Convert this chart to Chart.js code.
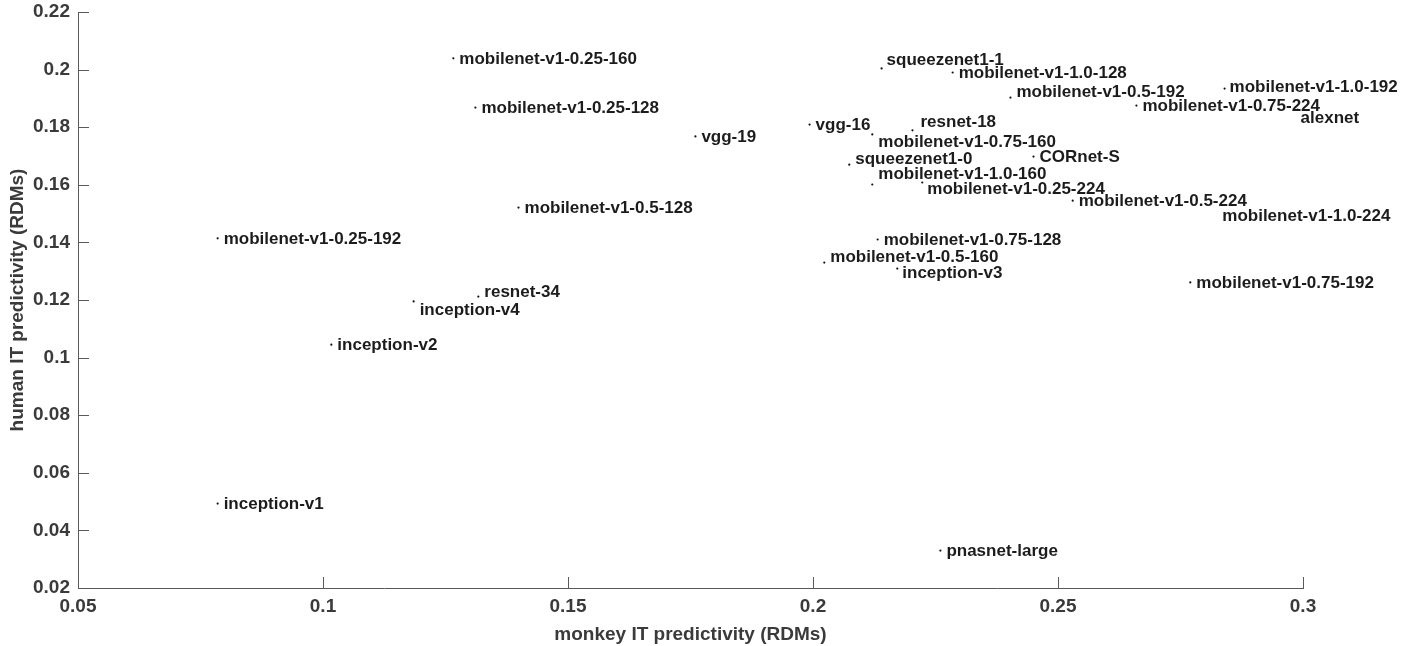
<!DOCTYPE html>
<html>
<head>
<meta charset="utf-8">
<script src="https://cdn.jsdelivr.net/npm/chart.js@4"></script>
<style>
  html, body { margin: 0; padding: 0; background: #ffffff; }
  #wrap { width: 1412px; height: 646px; position: relative; }
</style>
</head>
<body>
<div id="wrap"><canvas id="c" width="1412" height="646"></canvas></div>
<script>
// ---- data ----
const modelNames = [
  "mobilenet-v1-0.25-160", "mobilenet-v1-0.25-128", "vgg-19", "mobilenet-v1-0.5-128",
  "mobilenet-v1-0.25-192", "resnet-34", "inception-v4", "inception-v2", "inception-v1",
  "pnasnet-large", "squeezenet1-1", "mobilenet-v1-1.0-128", "mobilenet-v1-0.5-192",
  "mobilenet-v1-1.0-192", "mobilenet-v1-0.75-224", "alexnet", "vgg-16", "resnet-18",
  "mobilenet-v1-0.75-160", "squeezenet1-0", "CORnet-S", "mobilenet-v1-1.0-160",
  "mobilenet-v1-0.25-224", "mobilenet-v1-0.5-224", "mobilenet-v1-1.0-224",
  "mobilenet-v1-0.75-128", "mobilenet-v1-0.5-160", "inception-v3", "mobilenet-v1-0.75-192"
];
const monkeyIT = [
  0.1266, 0.1311, 0.1760, 0.1399,
  0.0785, 0.1317, 0.1185, 0.1017, 0.0785,
  0.2260, 0.2140, 0.2285, 0.2403,
  0.2840, 0.2660, 0.2989, 0.1993, 0.2203,
  0.2121, 0.2074, 0.2450, 0.2121,
  0.2223, 0.2530, 0.2872,
  0.2132, 0.2023, 0.2172, 0.2770
];
const humanIT = [
  0.2039, 0.1868, 0.1768, 0.1521,
  0.1414, 0.1212, 0.1195, 0.1045, 0.0493,
  0.0330, 0.2004, 0.1990, 0.1903,
  0.1934, 0.1875, 0.1861, 0.1809, 0.1789,
  0.1775, 0.1670, 0.1698, 0.1601,
  0.1608, 0.1545, 0.1500,
  0.1410, 0.1330, 0.1309, 0.1261
];
const xTickValues = [0.05, 0.1, 0.15, 0.2, 0.25, 0.3];
const xTickLabels = ["0.05", "0.1", "0.15", "0.2", "0.25", "0.3"];
const yTickValues = [0.02, 0.04, 0.06, 0.08, 0.1, 0.12, 0.14, 0.16, 0.18, 0.2, 0.22];
const yTickLabels = ["0.02", "0.04", "0.06", "0.08", "0.1", "0.12", "0.14", "0.16", "0.18", "0.2", "0.22"];
const xTitle = "monkey IT predictivity (RDMs)";
const yTitle = "human IT predictivity (RDMs)";

// ---- label placement (pixel offsets from point to label's left/middle), styling only ----
const labelOffsets = {
  "resnet-34": [6, -5],
  "inception-v4": [6, 8],
  "squeezenet1-1": [5, -9],
  "mobilenet-v1-0.5-192": [6, -6],
  "mobilenet-v1-1.0-192": [5, -2],
  "alexnet": [3, 8],
  "resnet-18": [8, -9],
  "mobilenet-v1-0.75-160": [6, 7],
  "squeezenet1-0": [6, -6],
  "mobilenet-v1-1.0-160": [6, -11],
  "mobilenet-v1-0.25-224": [5, 6],
  "mobilenet-v1-1.0-224": [-18, 2],
  "mobilenet-v1-0.5-160": [6, -6],
  "inception-v3": [5, 4]
};
const FONT = "'Liberation Sans', Arial, Helvetica, sans-serif";
const AXIS_COLOR = "#5a5a5a";
const TEXT_COLOR = "#3a3a3a";

const points = modelNames.map((n, i) => ({ x: monkeyIT[i], y: humanIT[i], name: n }));

const inwardTicks = {
  id: 'inwardTicks',
  afterDraw(chart) {
    const ctx = chart.ctx, xs = chart.scales.x, ys = chart.scales.y;
    const a = chart.chartArea;
    ctx.save();
    ctx.strokeStyle = AXIS_COLOR;
    ctx.lineWidth = 1;
    ctx.beginPath();
    xTickValues.forEach(v => {
      const px = Math.round(xs.getPixelForValue(v)) + 0.5;
      ctx.moveTo(px, a.bottom); ctx.lineTo(px, a.bottom - 11);
    });
    yTickValues.forEach(v => {
      const py = Math.round(ys.getPixelForValue(v)) + 0.5;
      ctx.moveTo(a.left, py); ctx.lineTo(a.left + 11, py);
    });
    ctx.stroke();
    ctx.restore();
  }
};

const pointLabels = {
  id: 'pointLabels',
  afterDatasetsDraw(chart) {
    const ctx = chart.ctx, xs = chart.scales.x, ys = chart.scales.y;
    ctx.save();
    ctx.font = "bold 17px " + FONT;
    ctx.fillStyle = "#1c1c1c";
    ctx.textAlign = "left";
    ctx.textBaseline = "middle";
    points.forEach(p => {
      const px = xs.getPixelForValue(p.x), py = ys.getPixelForValue(p.y);
      const off = labelOffsets[p.name] || [6, 0];
      ctx.fillText(p.name, px + off[0], py + off[1] + 1);
    });
    ctx.restore();
  }
};

new Chart(document.getElementById('c'), {
  type: 'scatter',
  data: {
    datasets: [{
      data: points,
      pointRadius: 1.1,
      pointHoverRadius: 1.1,
      pointBackgroundColor: '#111',
      pointBorderWidth: 0,
      showLine: false
    }]
  },
  options: {
    responsive: false,
    animation: false,
    devicePixelRatio: 1,
    layout: { padding: { top: 12, right: 109, left: 0, bottom: 0 } },
    plugins: { legend: { display: false }, tooltip: { enabled: false } },
    scales: {
      x: {
        type: 'linear', min: 0.05, max: 0.3,
        afterBuildTicks: s => { s.ticks = xTickValues.map(v => ({ value: v })); },
        afterFit: s => { s.height = 58; },
        border: { display: true, color: AXIS_COLOR, width: 1 },
        grid: { display: true, drawOnChartArea: false, drawTicks: false },
        ticks: {
          padding: 7, color: TEXT_COLOR, maxRotation: 0, autoSkip: false,
          font: { family: FONT, size: 19, weight: 'bold' },
          callback: (v) => { const i = xTickValues.findIndex(t => Math.abs(t - v) < 1e-9); return i >= 0 ? xTickLabels[i] : ''; }
        },
        title: {
          display: true, text: xTitle, color: TEXT_COLOR, padding: { top: 4, bottom: 0 },
          font: { family: FONT, size: 19, weight: 'bold' }
        }
      },
      y: {
        type: 'linear', min: 0.02, max: 0.22,
        afterBuildTicks: s => { s.ticks = yTickValues.map(v => ({ value: v })); },
        afterFit: s => { s.width = 78; s.paddingTop = 0; s.paddingBottom = 0; },
        border: { display: true, color: AXIS_COLOR, width: 1 },
        grid: { display: true, drawOnChartArea: false, drawTicks: false },
        ticks: {
          padding: 8, color: TEXT_COLOR, autoSkip: false,
          font: { family: FONT, size: 19, weight: 'bold', lineHeight: 0.5 },
          callback: (v) => { const i = yTickValues.findIndex(t => Math.abs(t - v) < 1e-9); return i >= 0 ? yTickLabels[i] : ''; }
        },
        title: {
          display: true, text: yTitle, color: TEXT_COLOR, padding: { top: 6, bottom: 0 },
          font: { family: FONT, size: 19, weight: 'bold' }
        }
      }
    }
  },
  plugins: [inwardTicks, pointLabels]
});
</script>
</body>
</html>
